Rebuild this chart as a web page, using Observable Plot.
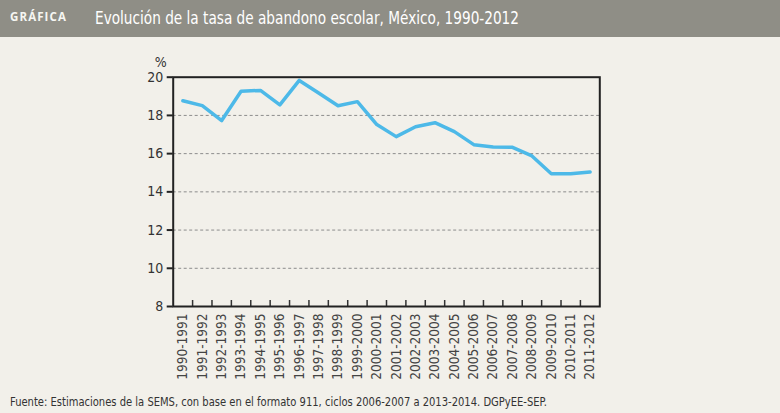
<!DOCTYPE html>
<html><head><meta charset="utf-8">
<script src="https://cdn.jsdelivr.net/npm/d3@7"></script>
<script src="https://cdn.jsdelivr.net/npm/@observablehq/plot@0.6"></script>
<style>
body{margin:0;background:#f2f0ea;width:780px;height:413px;overflow:hidden;font-family:"Liberation Sans Narrow","DejaVu Sans Condensed",sans-serif;}
#hdr{height:37px;background:#8f8e86;position:relative;}
#tag{position:absolute;left:10px;top:11.3px;font-family:"Open Sans",sans-serif;font-weight:bold;font-size:12.5px;line-height:12px;letter-spacing:1.2px;color:#f6f6f2;white-space:nowrap;transform-origin:0 0;}
#ttl{position:absolute;left:95px;top:9px;font-size:18px;line-height:18px;color:#ffffff;white-space:nowrap;transform-origin:0 0;}
#cap{height:26px;position:relative;}
#capt{position:absolute;left:10px;top:8.5px;font-size:12px;line-height:12px;color:#333;white-space:nowrap;transform-origin:0 0;}
#chart svg{display:block;}
</style></head>
<body>
<div id="hdr"><span id="tag">GRÁFICA</span><span id="ttl">Evolución de la tasa de abandono escolar, México, 1990-2012</span></div>
<div id="chart"></div>
<div id="cap"><span id="capt">Fuente: Estimaciones de la SEMS, con base en el formato 911, ciclos 2006-2007 a 2013-2014. DGPyEE-SEP.</span></div>
<script>
const ciclos = ["1990-1991","1991-1992","1992-1993","1993-1994","1994-1995","1995-1996","1996-1997","1997-1998","1998-1999","1999-2000","2000-2001","2001-2002","2002-2003","2003-2004","2004-2005","2005-2006","2006-2007","2007-2008","2008-2009","2009-2010","2010-2011","2011-2012"];
const tasa = [18.77,18.51,17.73,19.26,19.31,18.55,19.83,19.17,18.51,18.72,17.52,16.89,17.41,17.62,17.15,16.47,16.35,16.33,15.88,14.95,14.95,15.04];
const yTicks = [8,10,12,14,16,18,20];
const gridVals = [10,12,14,16,18];
const yLabel = "%";

const data = ciclos.map((c, i) => ({i, ciclo: c, tasa: tasa[i]}));
const idx = d3.range(ciclos.length);
const bounds = d3.range(1, ciclos.length).map(i => i - 0.5);
const font = '"Liberation Sans Narrow","DejaVu Sans Condensed",sans-serif';

const chart = Plot.plot({
  width: 780, height: 350,
  marginTop: 39.7, marginBottom: 81, marginLeft: 172.7, marginRight: 180.7,
  style: {background: "transparent", fontFamily: font, color: "#333"},
  x: {domain: [-0.5, ciclos.length - 0.5], label: null},
  y: {domain: [8, 20], label: null},
  marks: [
    Plot.ruleY(gridVals, {stroke: "#8c8c8c", strokeDasharray: "3,2.5", strokeWidth: 1}),
    Plot.line(data, {x: "i", y: "tasa", stroke: "#4db9e8", strokeWidth: 3.5}),
    Plot.axisX(bounds, {tickSize: -6, tickFormat: () => "", stroke: "#333", strokeWidth: 1.5, label: null}),
    Plot.axisX(idx, {tickSize: 0, tickPadding: 7, tickRotate: -90, tickFormat: i => ciclos[i], fontSize: 13.5, label: null, fill: "#444"}),
    Plot.axisY(yTicks, {tickSize: 6, tickPadding: 4, fontSize: 14, label: null, strokeWidth: 2, stroke: "#222", fill: "#333"}),
    Plot.frame({stroke: "#222", strokeWidth: 2}),
    Plot.text([yLabel], {frameAnchor: "top-left", dx: -18.5, dy: -20, fontSize: 14, fill: "#333"})
  ]
});
document.getElementById("chart").appendChild(chart);

function fit(id, target) {
  const el = document.getElementById(id);
  const w = el.getBoundingClientRect().width;
  el.style.transform = `scaleX(${target / w})`;
}
fit("tag", 57);
fit("ttl", 424);
fit("capt", 537);
</script>
</body></html>
